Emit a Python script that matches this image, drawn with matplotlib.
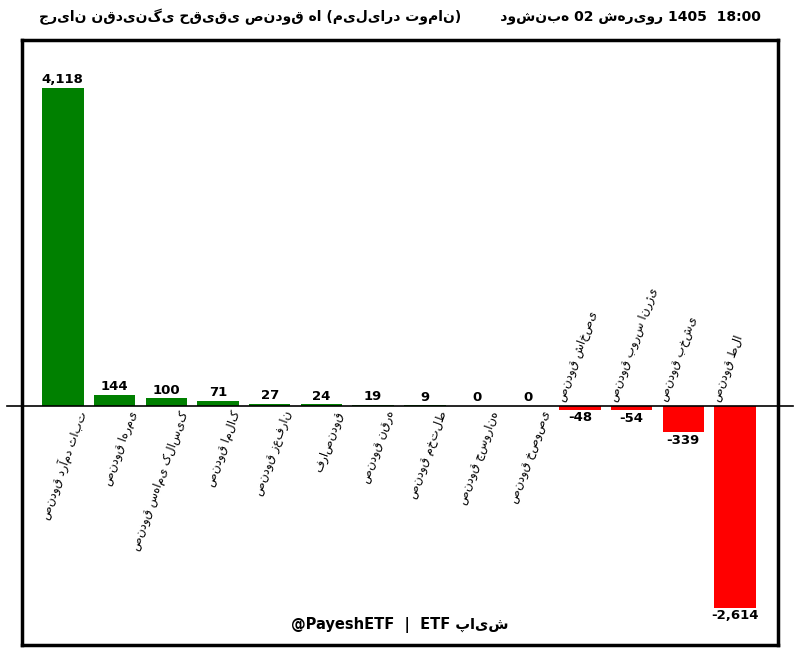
import matplotlib
matplotlib.use("Agg")
import matplotlib.pyplot as plt

try:
    import arabic_reshaper
    from bidi.algorithm import get_display
    def fa(s):
        return get_display(arabic_reshaper.reshape(s))
except Exception:
    def fa(s):
        return s

categories = ["صندوق درآمد ثابت", "صندوق اهرمی", "صندوق سهامی کلاسیک", "صندوق املاک",
              "صندوق زعفران", "فراصندوق", "صندوق نقره", "صندوق مختلط", "صندوق جسورانه",
              "صندوق خصوصی", "صندوق شاخصی", "صندوق بورس انرژی", "صندوق بخشی", "صندوق طلا"]
values = [4118, 144, 100, 71, 27, 24, 19, 9, 0, 0, -48, -54, -339, -2614]
title = "جریان نقدینگی حقیقی صندوق ها (میلیارد تومان)        دوشنبه 02 شهریور 1405  18:00"
footer = "@PayeshETF  |  ETF پایش"

plt.rcParams['font.family'] = ['DejaVu Sans']
fig = plt.figure(figsize=(8, 6.64), dpi=100)
ax = fig.add_axes([22/800, 1-645/664, 756/800, 605/664])
x = list(range(len(values)))
colors = ["green" if v >= 0 else "red" for v in values]
ax.bar(x, values, width=0.8, color=colors)
ax.set_xlim(-0.79, 13.83)
ax.set_ylim(-3095, 4740)
ax.set_xticks([]); ax.set_yticks([])
for s in ax.spines.values():
    s.set_linewidth(2.5)
ax.axhline(0, color="black", lw=1.2, xmin=-0.02, xmax=1.02, clip_on=False)

for i, v in enumerate(values):
    if v >= 0:
        ax.text(i, v + 20, f"{v:,}", ha="center", va="bottom", fontsize=9.5, fontweight="bold")
        ax.text(i + 0.25, -40, fa(categories[i]), rotation=70, ha="right", va="top",
                rotation_mode="anchor", fontsize=8.5)
    else:
        ax.text(i, v - 20, f"{v:,}", ha="center", va="top", fontsize=9.5, fontweight="bold")
        ax.text(i - 0.25, 40, fa(categories[i]), rotation=70, ha="left", va="bottom",
                rotation_mode="anchor", fontsize=8.5)

fig.text(0.5, 1-17/664, fa(title), ha="center", va="center", fontsize=10, fontweight="bold")
ax.text(0.5, 0.02, fa(footer), transform=ax.transAxes, ha="center", va="bottom",
        fontsize=10.5, fontweight="bold")
fig.savefig("out.png", dpi=100)
